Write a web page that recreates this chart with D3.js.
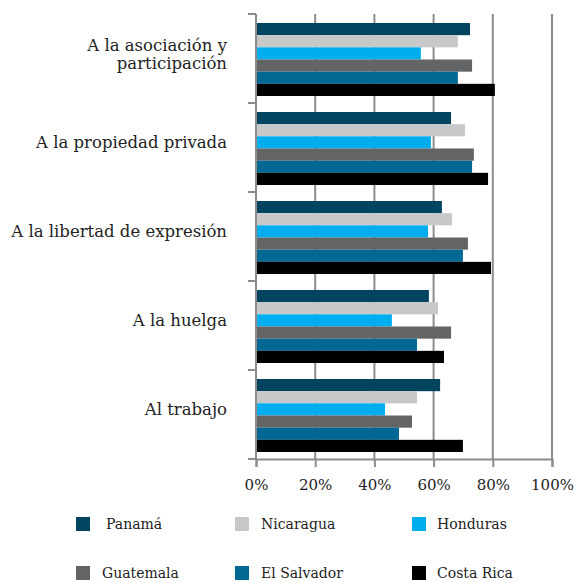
<!DOCTYPE html>
<html>
<head>
<meta charset="utf-8">
<script src="https://cdn.jsdelivr.net/npm/d3@7"></script>
<style>
  body { margin: 0; background: #fff; }
  text { font-family: "DejaVu Serif", serif; fill: #222; }
</style>
</head>
<body>
<div id="chart"></div>
<script>
// categories, top to bottom
const categories = [
  "A la asociación y participación",
  "A la propiedad privada",
  "A la libertad de expresión",
  "A la huelga",
  "Al trabajo"
];
const categoryLines = [
  ["A la asociación y", "participación"],
  ["A la propiedad privada"],
  ["A la libertad de expresión"],
  ["A la huelga"],
  ["Al trabajo"]
];
const countries = ["Panamá", "Nicaragua", "Honduras", "Guatemala", "El Salvador", "Costa Rica"];
const colors = ["#00445f", "#c7c8ca", "#00aeef", "#636466", "#006892", "#000000"];

// values per country, in category order
const panama     = [0.723, 0.659, 0.628, 0.584, 0.622];
const nicaragua  = [0.682, 0.706, 0.662, 0.615, 0.544];
const honduras   = [0.557, 0.591, 0.581, 0.459, 0.436];
const guatemala  = [0.730, 0.736, 0.716, 0.659, 0.527];
const elsalvador = [0.682, 0.730, 0.699, 0.544, 0.483];
const costarica  = [0.807, 0.784, 0.794, 0.635, 0.699];
const seriesValues = [panama, nicaragua, honduras, guatemala, elsalvador, costarica];

const xTicks = [0, 0.2, 0.4, 0.6, 0.8, 1.0];

const width = 574, height = 583;
const margin = {top: 14, left: 256, right: 22, bottom: 124};

const svg = d3.select("#chart").append("svg")
  .attr("width", width)
  .attr("height", height);

const x = d3.scaleLinear().domain([0, 1]).range([margin.left, width - margin.right]);
const y = d3.scaleBand().domain(categories).range([margin.top, height - margin.bottom]);
const yInner = d3.scaleBand().domain(countries).range([9, y.bandwidth() - 7]);

const axisColor = "#8c8c8c";

// gridlines
svg.append("g").selectAll("line")
  .data(xTicks)
  .join("line")
  .attr("x1", d => x(d)).attr("x2", d => x(d))
  .attr("y1", margin.top).attr("y2", height - margin.bottom)
  .attr("stroke", axisColor)
  .attr("stroke-width", 2);

// bars
const groups = svg.append("g").selectAll("g")
  .data(categories)
  .join("g")
  .attr("transform", c => "translate(0," + y(c) + ")");

groups.selectAll("rect")
  .data((c, ci) => countries.map((k, si) => ({country: k, value: seriesValues[si][ci], color: colors[si]})))
  .join("rect")
  .attr("x", x(0))
  .attr("y", d => yInner(d.country))
  .attr("width", d => x(d.value) - x(0))
  .attr("height", yInner.bandwidth())
  .attr("fill", d => d.color);

// left axis with ticks at category boundaries
const boundaries = categories.map(c => y(c)).concat([y(categories[categories.length - 1]) + y.bandwidth()]);
svg.append("line")
  .attr("x1", x(0)).attr("x2", x(0))
  .attr("y1", margin.top).attr("y2", height - margin.bottom)
  .attr("stroke", axisColor).attr("stroke-width", 2);
svg.append("g").selectAll("line")
  .data(boundaries)
  .join("line")
  .attr("x1", x(0) - 8).attr("x2", x(0))
  .attr("y1", d => d).attr("y2", d => d)
  .attr("stroke", axisColor).attr("stroke-width", 2);

// bottom axis
const xAxis = svg.append("g")
  .attr("transform", "translate(0," + (height - margin.bottom) + ")")
  .call(d3.axisBottom(x).tickValues(xTicks).tickFormat(d3.format(".0%")).tickSize(8).tickPadding(12));
xAxis.select(".domain").attr("stroke", axisColor).attr("stroke-width", 2);
xAxis.selectAll(".tick line").attr("stroke", axisColor).attr("stroke-width", 2);
xAxis.selectAll(".tick text")
  .style("font-family", "'DejaVu Serif', serif")
  .style("font-size", "15px")
  .attr("fill", "#222");

// category labels
const labels = svg.append("g").selectAll("text")
  .data(categories)
  .join("text")
  .attr("text-anchor", "end")
  .attr("x", 227)
  .attr("y", c => y(c) + y.bandwidth() / 2 - 5)
  .style("font-size", "16.5px");
labels.each(function(c, i) {
  const lines = categoryLines[i];
  const t = d3.select(this);
  lines.forEach((l, j) => {
    t.append("tspan")
      .attr("x", 227)
      .attr("dy", j === 0 ? (0.35 - (lines.length - 1) * 0.5) + "em" : "1.08em")
      .text(l);
  });
});

// legend
const legendX = [76, 235, 412];
const legendTextX = [106, 261, 437];
const legendY = [524, 573];
const legend = svg.append("g").selectAll("g")
  .data(countries)
  .join("g");
legend.append("rect")
  .attr("x", (d, i) => legendX[i % 3])
  .attr("y", (d, i) => legendY[Math.floor(i / 3)] - 7)
  .attr("width", 14).attr("height", 14)
  .attr("fill", (d, i) => colors[i]);
legend.append("text")
  .attr("x", (d, i) => i === 3 ? 102 : legendTextX[i % 3])
  .attr("y", (d, i) => legendY[Math.floor(i / 3)])
  .attr("dy", "0.35em")
  .style("font-size", "14px")
  .text(d => d);
</script>
</body>
</html>
